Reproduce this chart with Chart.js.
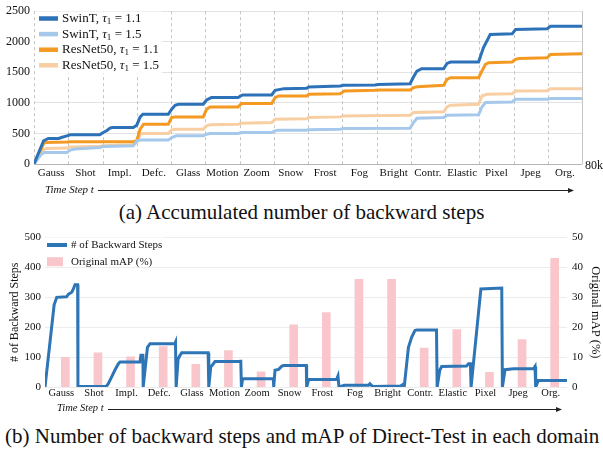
<!DOCTYPE html>
<html><head><meta charset="utf-8">
<script src="https://cdn.jsdelivr.net/npm/chart.js@4.4.1/dist/chart.umd.min.js"></script>
<style>
html,body{margin:0;padding:0;background:#fff;}
body{width:603px;height:449px;position:relative;overflow:hidden;font-family:"Liberation Serif","Times New Roman",serif;}
canvas{position:absolute;left:0;}
#ca{top:0;}
#cb{top:226px;}
.cap{position:absolute;white-space:nowrap;font-size:21px;color:#111;line-height:1;}
#capA{top:202px;left:0;width:603px;text-align:center;}
#capB{top:426px;left:5px;}
</style></head><body>
<canvas id="ca" width="603" height="200"></canvas>
<div class="cap" id="capA">(a) Accumulated number of backward steps</div>
<canvas id="cb" width="603" height="194"></canvas>
<div class="cap" id="capB">(b) Number of backward steps and mAP of Direct-Test in each domain</div>
<script>
// ---------- data ----------
const domains = ['Gauss','Shot','Impl.','Defc.','Glass','Motion','Zoom','Snow','Frost','Fog','Bright','Contr.','Elastic','Pixel','Jpeg','Org.'];
const seriesLabels = ['SwinT, τ₁ = 1.1','SwinT, τ₁ = 1.5','ResNet50, τ₁ = 1.1','ResNet50, τ₁ = 1.5'];
// [time step (k), accumulated backward steps]
const swinT11 = [[0,0],[1.4,380],[2.1,418],[3.6,418],[4.0,434],[4.8,461],[5.3,478],[9.6,478],[10.1,516],[10.6,543],[11.1,586],[11.4,597],[14.5,597],[15.0,635],[15.5,771],[15.9,814],[19.6,814],[20.1,896],[20.6,961],[21.1,977],[24.7,977],[25.2,1048],[25.9,1086],[29.8,1086],[30.1,1113],[30.5,1130],[34.7,1130],[35.2,1206],[36.5,1233],[39.8,1240],[40.1,1260],[44.7,1276],[45.2,1287],[49.8,1293],[50.2,1300],[54.9,1314],[55.4,1423],[55.9,1521],[56.6,1559],[59.8,1559],[60.3,1646],[60.8,1668],[64.9,1668],[65.6,1901],[66.6,2119],[69.8,2130],[70.3,2200],[74.9,2211],[75.4,2254],[80,2254]];
const swinT15 = [[0,0],[1.0,150],[1.5,190],[4.8,190],[5.3,228],[6.0,244],[9.6,271],[10.1,287],[14.5,298],[15.0,380],[15.5,391],[19.6,391],[20.1,434],[20.8,461],[24.7,461],[25.2,488],[25.7,499],[29.8,499],[30.3,516],[34.7,516],[35.2,543],[35.7,554],[39.8,554],[40.0,559],[44.7,570],[45.2,581],[54.9,586],[55.4,678],[55.9,749],[59.8,760],[60.3,798],[64.9,804],[65.4,934],[65.9,1005],[69.8,1016],[70.3,1059],[74.9,1059],[75.4,1070],[80,1070]];
const resnet11 = [[0,0],[1.5,353],[4.8,358],[5.3,363],[14.5,365],[15.0,380],[15.5,570],[16.0,652],[19.6,652],[20.1,760],[20.6,771],[24.7,771],[25.2,896],[25.7,934],[29.8,934],[30.3,988],[34.7,988],[35.2,1086],[35.7,1113],[39.8,1113],[40.1,1140],[44.7,1151],[45.3,1195],[49.8,1206],[50.2,1211],[54.9,1211],[55.4,1249],[56.0,1265],[59.8,1287],[60.3,1385],[60.8,1412],[64.9,1412],[65.4,1521],[65.9,1630],[66.4,1657],[69.8,1668],[70.3,1711],[70.8,1727],[74.9,1738],[75.4,1793],[80,1803]];
const resnet15 = [[0,0],[1.3,230],[1.8,255],[4.8,260],[5.3,280],[9.6,290],[10.1,300],[14.5,314],[15.0,353],[15.5,488],[16.0,499],[19.6,499],[20.1,559],[20.6,570],[24.7,570],[25.2,624],[25.7,641],[29.8,651],[30.3,668],[34.7,679],[35.2,733],[39.8,740],[40.1,760],[44.7,771],[45.2,787],[54.9,798],[55.4,842],[59.8,853],[60.3,934],[60.8,961],[64.9,977],[65.4,1113],[66.1,1140],[69.8,1151],[70.3,1195],[74.9,1200],[75.4,1233],[80,1233]];
// [time step (k), backward steps]
const backwardSteps = [[0,0],[1.4,275],[1.8,300],[3.3,302],[3.6,311],[4.1,317],[4.35,328],[4.6,342],[5.0,342],[5.05,2],
 [9.4,2],[9.7,11],[10.2,33],[10.7,56],[11.25,78],[11.5,84],[14.55,84],[14.7,106],[15.0,106],[15.05,0],
 [15.7,133],[16.1,145],[19.9,145],[20.0,150],[20.1,0],
 [20.4,94],[20.7,106],[20.95,115],[25.0,115],[25.1,0],
 [25.4,67],[25.8,78],[26.05,85],[29.9,85],[30.0,91],[30.1,0],
 [30.3,28],[35.0,28],[35.05,0],
 [35.25,56],[35.8,59],[36.3,70],[36.6,72],[40.05,72],[40.1,0],
 [40.4,25],[44.7,26],[44.9,37],[45.05,0],
 [45.9,6],[49.6,6],[49.8,11],[50.0,6],
 [50.2,2],[54.5,3],[54.9,9],[55.05,0],
 [55.7,133],[56.2,167],[56.7,189],[57.0,191],[60.0,191],[60.1,0],
 [60.5,56],[60.8,69],[64.6,70],[64.9,78],[65.2,78],[65.3,0],
 [66.8,328],[70.0,331],[70.1,0],
 [70.5,58],[71.8,61],[74.85,61],[75.1,69],[75.2,0],
 [75.6,22],[80,22]];
const originalMAP = [9.9,11.4,10.1,13.5,7.6,12.2,5.1,20.8,24.9,36.0,36.0,13.0,19.2,4.9,15.9,43.1];

// ---------- style ----------
const FAM = "'Liberation Serif', 'Times New Roman', serif";
const COL = {swin11:'#2d72b8', swin15:'#a6c8eb', res11:'#f49a23', res15:'#f7cfa3', steps:'#2e75b6', map:'#f8c6cb', text:'#111'};
Chart.defaults.font.family = FAM;
Chart.defaults.color = COL.text;
const F = size => ({family: FAM, size});
const pts = a => a.map(([x,y]) => ({x, y}));
const plain = v => String(v);

function drawLabel(ctx, text, x, y, size){
  const parts = text.split('τ₁');
  ctx.font = size + 'px ' + FAM;
  ctx.fillText(parts[0], x, y); x += ctx.measureText(parts[0]).width;
  if (parts.length > 1){
    ctx.font = 'italic ' + size + 'px ' + FAM;
    ctx.fillText('τ', x, y); x += ctx.measureText('τ').width;
    ctx.font = (size*0.7) + 'px ' + FAM;
    ctx.fillText('1', x, y + size*0.25); x += ctx.measureText('1').width;
    ctx.font = size + 'px ' + FAM;
    ctx.fillText(parts[1], x, y);
  }
}

const inlineLegend = {
  id:'inlineLegend',
  afterDraw(chart, args, o){
    const ctx = chart.ctx; ctx.save();
    ctx.fillStyle = '#fff'; ctx.fillRect(o.box[0], o.box[1], o.box[2], o.box[3]);
    ctx.textBaseline = 'middle'; ctx.textAlign = 'left';
    chart.data.datasets.forEach((ds, i) => {
      const y = o.y0 + i*o.dy;
      if (ds.type === 'bar'){
        ctx.fillStyle = ds.backgroundColor;
        ctx.fillRect(o.sx, y - o.rectH/2, o.rectW, o.rectH);
      } else {
        ctx.strokeStyle = ds.borderColor; ctx.lineWidth = o.lw;
        ctx.beginPath(); ctx.moveTo(o.sx, y); ctx.lineTo(o.sx + o.sw, y); ctx.stroke();
      }
      ctx.fillStyle = COL.text;
      drawLabel(ctx, ds.label, o.tx, y, o.size);
    });
    ctx.restore();
  }
};

// domain separators (dashed) + frame + time arrow
const extras = {
  id:'extras',
  beforeDatasetsDraw(chart, args, o){
    if (!o.separators) return;
    const ctx = chart.ctx, a = chart.chartArea, xs = chart.scales.x; ctx.save();
    ctx.strokeStyle = '#c4c4c4'; ctx.lineWidth = 1; ctx.setLineDash([3,3]);
    for (let i = 0; i <= domains.length; i++){
      const px = Math.round(xs.getPixelForValue(i - 0.5)) + 0.5;
      if (i === domains.length) ctx.setLineDash([]);
      ctx.beginPath(); ctx.moveTo(px, a.top); ctx.lineTo(px, a.bottom); ctx.stroke();
    }
    ctx.restore();
  },
  afterDraw(chart, args, o){
    const ctx = chart.ctx, a = chart.chartArea; ctx.save();
    ctx.fillStyle = COL.text; ctx.textBaseline = 'middle'; ctx.textAlign = 'left';
    ctx.font = 'italic ' + o.tsize + 'px ' + FAM;
    ctx.fillText('Time Step t', o.tx, o.ty);
    ctx.strokeStyle = '#222'; ctx.lineWidth = 1;
    ctx.beginPath(); ctx.moveTo(o.ax0, o.ay); ctx.lineTo(o.ax1 - 4, o.ay); ctx.stroke();
    ctx.fillStyle = '#222';
    ctx.beginPath(); ctx.moveTo(o.ax1, o.ay); ctx.lineTo(o.ax1 - 6, o.ay - 2.5); ctx.lineTo(o.ax1 - 6, o.ay + 2.5); ctx.closePath(); ctx.fill();
    if (o.endLabel){
      ctx.fillStyle = COL.text; ctx.font = '12px ' + FAM;
      ctx.fillText(o.endLabel, a.right + 3, a.bottom + 1.5);
    }
    ctx.restore();
  }
};

// ---------- chart (a) ----------
const lineDs = (label, arr, color) => ({label, data: pts(arr), borderColor: color, backgroundColor: color, xAxisID:'t', yAxisID:'y', borderWidth:3, pointRadius:0, tension:0, fill:false});
new Chart(document.getElementById('ca'), {
  type:'line',
  data:{labels: domains, datasets:[
    lineDs(seriesLabels[0], swinT11, COL.swin11),
    lineDs(seriesLabels[1], swinT15, COL.swin15),
    lineDs(seriesLabels[2], resnet11, COL.res11),
    lineDs(seriesLabels[3], resnet15, COL.res15)
  ]},
  plugins:[inlineLegend, extras],
  options:{
    responsive:false, animation:false, events:[],
    layout:{padding:{top:10, right:21, left:0, bottom:0}},
    plugins:{
      legend:{display:false}, tooltip:{enabled:false},
      inlineLegend:{box:[35,11.5,127,62], y0:18.5, dy:15.6, sx:39, sw:19, lw:4.5, tx:62, size:13},
      extras:{separators:true, tsize:11, tx:45, ty:190, ax0:98, ax1:574, ay:190.5, endLabel:'80k'}
    },
    scales:{
      x:{type:'category', offset:true, position:'bottom',
        grid:{display:false, drawTicks:false},
        border:{display:false},
        ticks:{font:F(11), padding:3, autoSkip:false, maxRotation:0, minRotation:0},
        afterFit(s){ s.height = 36; }},
      t:{type:'linear', display:false, offset:false, min:0, max:80, position:'bottom'},
      y:{min:0, max:2500,
        ticks:{stepSize:500, font:F(12), padding:4, callback: plain},
        grid:{color:(c)=> c.tick && c.tick.value === 0 ? '#b5b5b5' : '#e3e3e3', drawTicks:false},
        border:{display:false},
        afterFit(s){ s.width = 34; }}
    }
  }
});

// ---------- chart (b) ----------
new Chart(document.getElementById('cb'), {
  type:'bar',
  data:{labels: domains, datasets:[
    {type:'line', label:'# of Backward Steps', data: pts(backwardSteps), xAxisID:'t', yAxisID:'y', borderColor:COL.steps, backgroundColor:COL.steps, borderWidth:3, pointRadius:0, tension:0, fill:false},
    {type:'bar', label:'Original mAP (%)', data: originalMAP, xAxisID:'x', yAxisID:'y2', backgroundColor:COL.map, barThickness:8}
  ]},
  plugins:[inlineLegend, extras],
  options:{
    responsive:false, animation:false, events:[],
    layout:{padding:{top:11, right:0, left:0, bottom:0}},
    plugins:{
      legend:{display:false}, tooltip:{enabled:false},
      inlineLegend:{box:[46,11.5,120,28], y0:19, dy:16.7, sx:47, sw:20, lw:4, rectW:16, rectH:9, tx:71, size:11},
      extras:{separators:false, tsize:10.5, tx:57, ty:182, ax0:108, ax1:562, ay:183.5}
    },
    scales:{
      x:{type:'category', offset:true, position:'bottom',
        grid:{display:false, drawTicks:false}, border:{display:false},
        ticks:{font:F(10.5), padding:0, autoSkip:false, maxRotation:0, minRotation:0},
        afterFit(s){ s.height = 33; }},
      t:{type:'linear', display:false, offset:false, min:0, max:80, position:'bottom'},
      y:{position:'left', min:0, max:500,
        ticks:{stepSize:100, font:F(11), padding:4},
        grid:{color:'#ececec', drawTicks:false}, border:{display:false},
        title:{display:true, text:'# of Backward Steps', font:F(12), padding:{top:8, bottom:0}},
        afterFit(s){ s.width = 45; }},
      y2:{position:'right', min:0, max:50,
        ticks:{stepSize:10, font:F(11), padding:5},
        grid:{display:false, drawTicks:false}, border:{display:false},
        title:{display:true, text:'Original mAP (%)', font:F(12.5), padding:{top:0, bottom:0}},
        afterFit(s){ s.width = 36; }}
    }
  }
});
</script>
</body></html>
